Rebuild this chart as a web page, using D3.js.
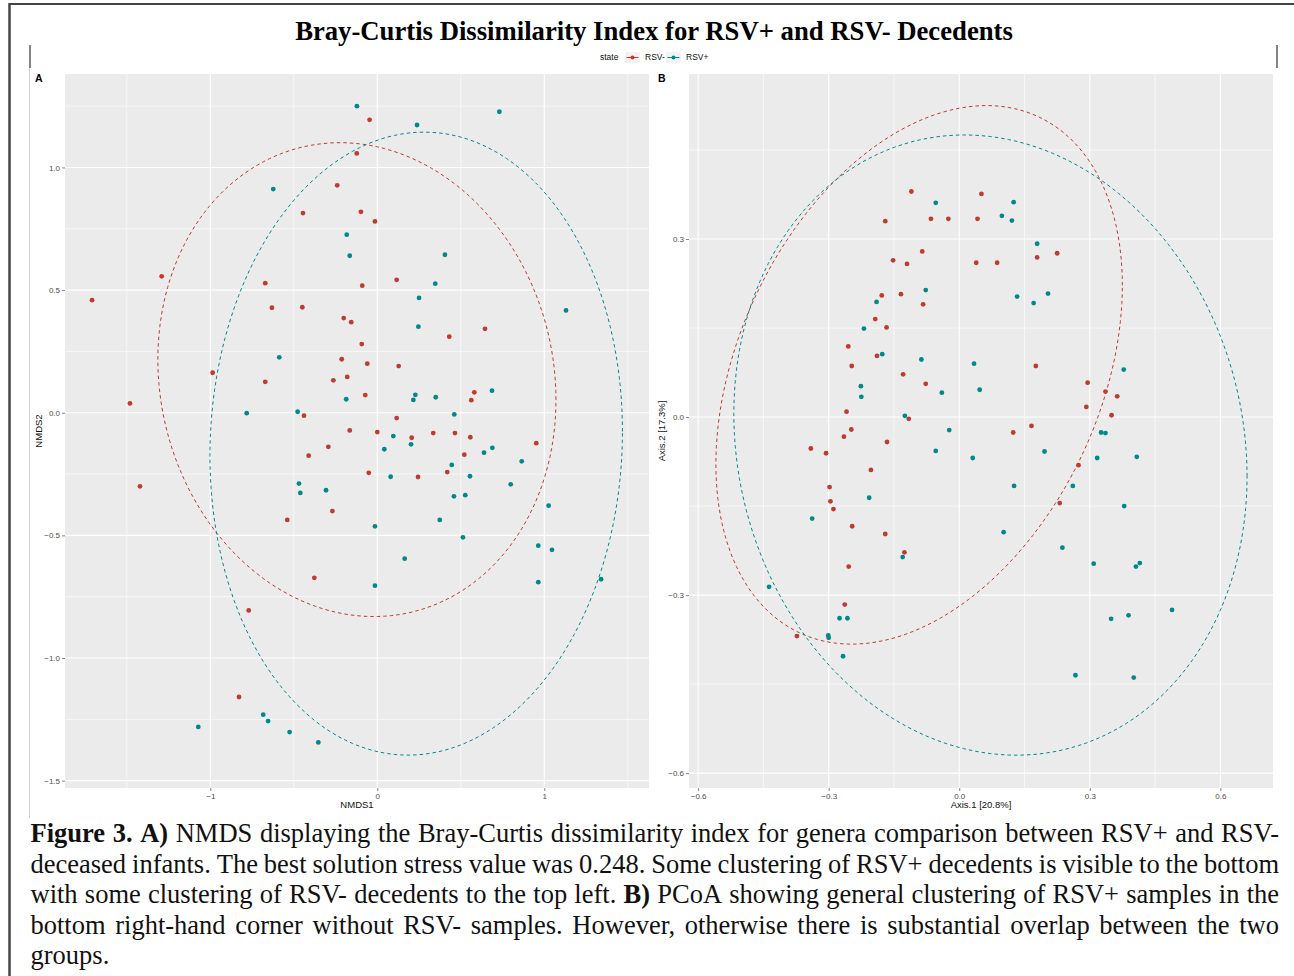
<!DOCTYPE html>
<html>
<head>
<meta charset="utf-8">
<script src="https://cdn.jsdelivr.net/npm/d3@7"></script>
<style>
  body { margin: 0; background: #fff; }
  svg { font-family: "Liberation Sans", Arial, sans-serif; }
</style>
</head>
<body>
<svg id="fig" width="1294" height="976"></svg>
<script>
// ---- panel A : NMDS ----
var nmdsNeg = [[-0.445,0.814],[-1.291,0.556],[-1.708,0.459],[-0.671,0.528],[-0.631,0.428],[-0.449,0.430],
  [-0.986,0.163],[-0.671,0.126],[-1.481,0.038],[-0.439,-0.012],[-0.293,-0.139],[-0.411,-0.175],
  [-0.046,1.194],[-0.123,1.057],[-0.240,0.927],[-0.098,0.819],[-0.014,0.780],[0.116,0.542],
  [-0.090,0.518],[-0.201,0.386],[-0.156,0.369],[0.645,0.342],[0.431,0.310],[-0.093,0.280],
  [-0.213,0.218],[-0.060,0.200],[0.128,0.190],[-0.263,0.132],[-0.180,0.146],[-0.072,0.072],
  [0.581,0.083],[0.563,0.051],[0.116,-0.022],[-0.165,-0.072],[0.000,-0.079],[0.206,-0.102],
  [0.335,-0.083],[0.465,-0.083],[0.557,-0.100],[0.952,-0.124],[0.521,-0.171],[-1.421,-0.300],
  [-0.539,-0.437],[-0.377,-0.673],[-0.770,-0.806],[-0.828,-1.159],[-0.051,-0.245],[0.244,-0.262],
  [0.419,-0.242],[-0.269,-0.401]];
var nmdsPos = [[-0.623,0.912],[-0.587,0.226],[-0.782,-0.002],[-0.477,0.004],[-0.122,1.250],[0.238,1.173],
  [0.731,1.227],[-0.183,0.726],[-0.165,0.640],[0.405,0.644],[0.347,0.526],[0.250,0.468],
  [1.130,0.417],[0.246,0.351],[-0.186,0.055],[0.228,0.073],[0.216,0.052],[0.350,0.063],
  [0.687,0.090],[0.461,-0.007],[0.096,-0.095],[0.042,-0.149],[0.202,-0.129],[0.639,-0.163],
  [0.689,-0.143],[0.865,-0.198],[-0.469,-0.289],[-0.461,-0.327],[-0.307,-0.316],[-0.683,-1.231],
  [-0.654,-1.257],[-1.072,-1.281],[-0.525,-1.302],[-0.353,-1.344],[0.446,-0.213],[0.080,-0.261],
  [0.555,-0.259],[0.799,-0.292],[0.459,-0.341],[0.527,-0.336],[1.026,-0.379],[0.374,-0.437],
  [-0.014,-0.463],[0.513,-0.508],[0.964,-0.542],[1.046,-0.559],[0.164,-0.595],[-0.014,-0.705],
  [0.964,-0.691],[1.340,-0.679]];
// ellipse: centre x, centre y, sd x, sd y, correlation
var nmdsEllNeg = [-0.122, 0.135, 1.192, 0.966, -0.085];
var nmdsEllPos = [0.233, -0.126, 1.235, 1.270, 0.039];
var nmdsXTicks = [-1, 0, 1], nmdsXMinor = [-1.5, -0.5, 0.5, 1.5];
var nmdsYTicks = [-1.5, -1, -0.5, 0, 0.5, 1], nmdsYMinor = [-1.25, -0.75, -0.25, 0.25, 0.75, 1.25];

// ---- panel B : PCoA ----
var pcoaNeg = [[-0.110,0.380],[-0.170,0.330],[-0.065,0.334],[-0.025,0.334],[-0.085,0.279],[-0.152,0.264],
  [-0.120,0.258],[-0.178,0.205],[-0.134,0.207],[-0.083,0.190],[-0.193,0.165],[-0.167,0.151],
  [-0.255,0.119],[-0.189,0.103],[-0.247,0.086],[-0.129,0.072],[-0.077,0.056],[-0.259,0.009],
  [-0.116,-0.003],[-0.248,-0.021],[-0.265,-0.033],[-0.166,-0.042],[-0.341,-0.053],[-0.306,-0.061],
  [0.051,0.376],[0.042,0.334],[0.179,0.269],[0.225,0.276],[0.039,0.260],[0.087,0.260],
  [0.176,0.086],[0.295,0.058],[0.336,0.043],[0.363,0.035],[0.292,0.017],[0.350,0.003],
  [0.124,-0.026],[0.166,-0.015],[-0.203,-0.089],[-0.298,-0.118],[-0.296,-0.142],[-0.289,-0.155],
  [-0.246,-0.184],[-0.170,-0.197],[-0.126,-0.228],[-0.254,-0.252],[-0.263,-0.316],[-0.373,-0.369],
  [0.274,-0.081],[0.231,-0.145]];
var pcoaPos = [[-0.054,0.361],[-0.077,0.214],[-0.190,0.194],[-0.219,0.149],[-0.177,0.106],[-0.087,0.097],
  [-0.040,0.041],[-0.226,0.052],[-0.225,0.034],[-0.125,0.002],[-0.023,-0.022],[-0.054,-0.057],
  [0.125,0.362],[0.098,0.339],[0.121,0.331],[0.179,0.292],[0.133,0.203],[0.171,0.192],
  [0.204,0.208],[0.034,0.090],[0.047,0.046],[0.378,0.080],[0.326,-0.026],[0.336,-0.027],
  [0.196,-0.058],[0.031,-0.069],[0.317,-0.069],[0.408,-0.067],[-0.207,-0.136],[-0.338,-0.171],
  [-0.130,-0.236],[-0.437,-0.286],[-0.275,-0.339],[-0.257,-0.339],[-0.301,-0.368],[-0.300,-0.372],
  [-0.267,-0.403],[0.126,-0.116],[0.261,-0.116],[0.379,-0.150],[0.102,-0.194],[0.237,-0.220],
  [0.309,-0.247],[0.406,-0.252],[0.415,-0.246],[0.349,-0.340],[0.389,-0.334],[0.489,-0.325],
  [0.267,-0.435],[0.401,-0.439]];
var pcoaEllNeg = [-0.0922, 0.0711, 0.467, 0.4537, 0.332];
var pcoaEllPos = [0.0717, -0.0472, 0.5897, 0.5225, -0.101];
var pcoaXTicks = [-0.6, -0.3, 0, 0.3, 0.6], pcoaXMinor = [-0.45, -0.15, 0.15, 0.45];
var pcoaYTicks = [-0.6, -0.3, 0, 0.3], pcoaYMinor = [-0.45, -0.15, 0.15, 0.45];

var groups = ["RSV-", "RSV+"];
var colours = ["#bf3a2f", "#00898b"];

var captionLines = [
  "*Figure *3. *A) NMDS displaying the Bray-Curtis dissimilarity index for genera comparison between RSV+ and RSV-",
  "deceased infants. The best solution stress value was 0.248. Some clustering of RSV+ decedents is visible to the bottom",
  "with some clustering of RSV- decedents to the top left. *B) PCoA showing general clustering of RSV+ samples in the",
  "bottom right-hand corner without RSV- samples. However, otherwise there is substantial overlap between the two",
  "groups."
];

var serif = "'Liberation Serif', 'Times New Roman', serif";
var svg = d3.select("#fig");

// page frame
svg.append("line").attr("x1",9).attr("x2",1294).attr("y1",4).attr("y2",4).attr("stroke","#444").attr("stroke-width",2);
svg.append("line").attr("x1",9.5).attr("x2",9.5).attr("y1",3).attr("y2",976).attr("stroke","#444").attr("stroke-width",2.5);
svg.append("line").attr("x1",29.5).attr("x2",29.5).attr("y1",68).attr("y2",818).attr("stroke","#cfcfcf").attr("stroke-width",1);
svg.append("line").attr("x1",30).attr("x2",30).attr("y1",45).attr("y2",68).attr("stroke","#333").attr("stroke-width",1.2);
svg.append("line").attr("x1",1277).attr("x2",1277).attr("y1",45).attr("y2",68).attr("stroke","#333").attr("stroke-width",1.2);

// title
svg.append("text").attr("x",654).attr("y",40).attr("text-anchor","middle")
  .style("font-family",serif).style("font-weight","bold").style("font-size","26.7px")
  .text("Bray-Curtis Dissimilarity Index for RSV+ and RSV- Decedents");

// legend
var leg = svg.append("g").style("font-size","8.5px");
leg.append("text").attr("x",600).attr("y",60).attr("fill","#111").text("state");
var legX = [625, 666];
groups.forEach(function(g,i){
  var k = leg.append("g").attr("transform","translate("+legX[i]+",52)");
  k.append("rect").attr("width",15).attr("height",11).attr("fill","#f2f2f2");
  k.append("line").attr("x1",1.5).attr("x2",13.5).attr("y1",5.5).attr("y2",5.5).attr("stroke",colours[i]).attr("stroke-width",1);
  k.append("circle").attr("cx",7.5).attr("cy",5.5).attr("r",2).attr("fill",colours[i]);
  leg.append("text").attr("x",legX[i]+20).attr("y",60).attr("fill","#111").text(g);
});

function ellipsePoints(e){
  var cx=e[0], cy=e[1], sx=e[2], sy=e[3], r=e[4];
  return d3.range(0, 360, 2).map(function(d){
    var t = d*Math.PI/180, u = Math.cos(t), v = Math.sin(t);
    return [cx + sx*u, cy + r*sy*u + sy*Math.sqrt(1-r*r)*v];
  });
}

function drawPanel(p){
  var x = d3.scaleLinear().domain(p.xDomain).range([p.left, p.right]);
  var y = d3.scaleLinear().domain(p.yDomain).range([p.bottom, p.top]);
  var g = svg.append("g");
  var clipId = "clip"+p.tag;
  g.append("clipPath").attr("id",clipId).append("rect")
    .attr("x",p.left).attr("y",p.top).attr("width",p.right-p.left).attr("height",p.bottom-p.top);
  g.append("rect").attr("x",p.left).attr("y",p.top).attr("width",p.right-p.left).attr("height",p.bottom-p.top).attr("fill","#ebebeb");

  // grid
  g.selectAll(".gxm").data(p.xMinor).enter().append("line")
    .attr("x1",x).attr("x2",x).attr("y1",p.top).attr("y2",p.bottom).attr("stroke","#fff").attr("stroke-width",0.6);
  g.selectAll(".gym").data(p.yMinor).enter().append("line")
    .attr("y1",y).attr("y2",y).attr("x1",p.left).attr("x2",p.right).attr("stroke","#fff").attr("stroke-width",0.6);
  g.selectAll(".gx").data(p.xTicks).enter().append("line")
    .attr("x1",x).attr("x2",x).attr("y1",p.top).attr("y2",p.bottom).attr("stroke","#fff").attr("stroke-width",1.1);
  g.selectAll(".gy").data(p.yTicks).enter().append("line")
    .attr("y1",y).attr("y2",y).attr("x1",p.left).attr("x2",p.right).attr("stroke","#fff").attr("stroke-width",1.1);

  var plot = g.append("g").attr("clip-path","url(#"+clipId+")");
  [p.neg, p.pos].forEach(function(pts,i){
    plot.append("g").selectAll("circle").data(pts).enter().append("circle")
      .attr("cx",function(d){return x(d[0]);}).attr("cy",function(d){return y(d[1]);})
      .attr("r",2.4).attr("fill",colours[i]);
  });
  var line = d3.line().x(function(d){return x(d[0]);}).y(function(d){return y(d[1]);}).curve(d3.curveLinearClosed);
  [p.ellNeg, p.ellPos].forEach(function(e,i){
    plot.append("path").attr("d",line(ellipsePoints(e))).attr("fill","none")
      .attr("stroke",colours[i]).attr("stroke-width",1).attr("stroke-dasharray","3.5,3");
  });

  // axes
  var ax = g.append("g").attr("transform","translate(0,"+p.bottom+")")
    .call(d3.axisBottom(x).tickValues(p.xTicks).tickSize(3).tickPadding(2).tickFormat(p.xFmt));
  var ay = g.append("g").attr("transform","translate("+p.left+",0)")
    .call(d3.axisLeft(y).tickValues(p.yTicks).tickSize(3).tickPadding(2).tickFormat(p.yFmt));
  [ax, ay].forEach(function(a){
    a.select(".domain").remove();
    a.selectAll(".tick line").attr("stroke","#333").attr("stroke-width",0.6);
    a.selectAll(".tick text").attr("fill","#4d4d4d").style("font-size","8px").style("font-family","'Liberation Sans', Arial, sans-serif");
  });

  svg.append("text").attr("x",(p.left+p.right)/2).attr("y",808).attr("text-anchor","middle")
    .style("font-size","9.5px").attr("fill","#111").text(p.xTitle);
  svg.append("text").attr("transform","translate("+p.yTitleX+","+((p.top+p.bottom)/2)+") rotate(-90)")
    .attr("text-anchor","middle").style("font-size","9.5px").attr("fill","#111").text(p.yTitle);
  svg.append("text").attr("x",p.labelX).attr("y",82).style("font-size","10.5px").style("font-weight","bold").text(p.tag);
}

drawPanel({tag:"A", left:65, right:649, top:74, bottom:788,
  xDomain:[-1.87,1.627], yDomain:[-1.530,1.381],
  xTicks:nmdsXTicks, xMinor:nmdsXMinor, yTicks:nmdsYTicks, yMinor:nmdsYMinor,
  xFmt:d3.format("d"), yFmt:d3.format(".1f"),
  neg:nmdsNeg, pos:nmdsPos, ellNeg:nmdsEllNeg, ellPos:nmdsEllPos,
  xTitle:"NMDS1", yTitle:"NMDS2", yTitleX:42, labelX:35});

drawPanel({tag:"B", left:689, right:1273, top:74, bottom:788,
  xDomain:[-0.621,0.721], yDomain:[-0.625,0.578],
  xTicks:pcoaXTicks, xMinor:pcoaXMinor, yTicks:pcoaYTicks, yMinor:pcoaYMinor,
  xFmt:d3.format(".1f"), yFmt:d3.format(".1f"),
  neg:pcoaNeg, pos:pcoaPos, ellNeg:pcoaEllNeg, ellPos:pcoaEllPos,
  xTitle:"Axis.1   [20.8%]", yTitle:"Axis.2   [17.3%]", yTitleX:665, labelX:658});

// caption, justified word by word
var capLeft = 30.5, capRight = 1279, capTop = 842, capStep = 30.6, capSize = 26.5;
var cap = svg.append("g");
captionLines.forEach(function(str, li){
  var words = str.split(" ");
  var nodes = words.map(function(w){
    var bold = w.charAt(0) === "*";
    return cap.append("text").attr("y", capTop + li*capStep).attr("fill","#111")
      .style("font-family",serif).style("font-size",capSize+"px")
      .style("font-weight", bold ? "bold" : "normal").text(bold ? w.slice(1) : w);
  });
  var widths = nodes.map(function(t){ return t.node().getComputedTextLength(); });
  var total = d3.sum(widths);
  var gap = (li < captionLines.length-1 && words.length > 1) ? (capRight - capLeft - total)/(words.length-1) : capSize/4;
  var cx = capLeft;
  nodes.forEach(function(t,i){ t.attr("x", cx); cx += widths[i] + gap; });
});
</script>
</body>
</html>
